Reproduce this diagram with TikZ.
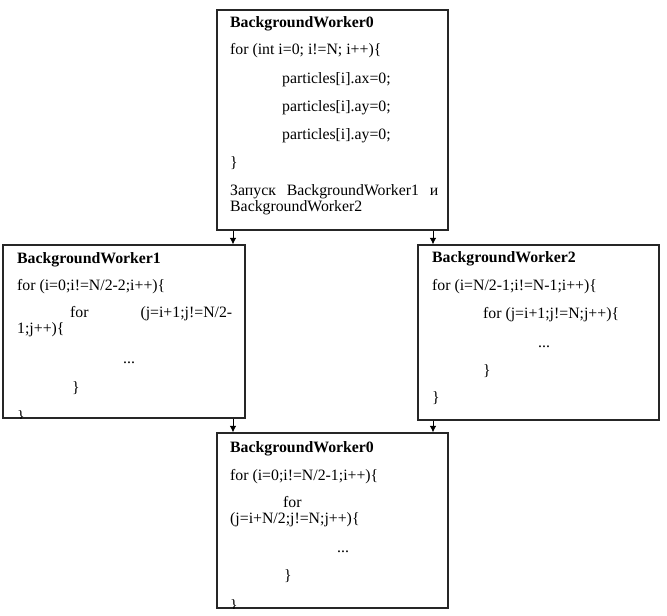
\documentclass[tikz,border=0pt]{standalone}
\usepackage{fontspec}
\setmainfont{Liberation Serif}
\usetikzlibrary{arrows.meta}
\begin{document}
\begin{tikzpicture}[x=1pt,y=-1pt,
  box/.style={draw=black!85,line width=1.2pt,rectangle,inner sep=0pt,fill=white},
  txt/.style={anchor=base west,inner sep=0pt,font=\fontsize{15.8}{14}\selectfont},
  hd/.style={txt,font=\fontsize{15.8}{14}\selectfont\bfseries},
  arr/.style={draw=black,line width=0.9pt,-{Latex[length=6.5pt,width=6.5pt]}}]
\useasboundingbox[fill=white] (0,0) rectangle (667,616);
% boxes
\node[box,minimum width=231pt,minimum height=220pt] (top) at (332.5,120) {};
\node[box,minimum width=242pt,minimum height=173pt] (left) at (124,331.5) {};
\node[box,minimum width=241pt,minimum height=175pt] (right) at (538.5,332.5) {};
\node[box,minimum width=231pt,minimum height=175pt] (bot) at (332.5,520.5) {};
% top box text
\node[hd] (t1) at (230,27) {BackgroundWorker0};
\node[txt] (t2) at (230,54) {for (int i=0; i!=N; i++)\{};
\node[txt] (t3) at (282,83) {particles[i].ax=0;};
\node[txt] (t4) at (282,111) {particles[i].ay=0;};
\node[txt] (t5) at (282,139) {particles[i].ay=0;};
\node[txt] (t6) at (230,167) {\}};
\node[txt] (t7) at (230,195) {\hbox to 208pt{Запуск\hfill BackgroundWorker1\hfill и}};
\node[txt] (t8) at (230,211) {BackgroundWorker2};
% left box text
\begin{scope}
\clip (left.north west) rectangle (left.south east);
\node[hd] (l1) at (17,263) {BackgroundWorker1};
\node[txt] (l2) at (17,290) {for (i=0;i!=N/2-2;i++)\{};
\node[txt] (l3) at (70,317) {\hbox to 162pt{for\hfill (j=i+1;j!=N/2-}};
\node[txt] (l4) at (17,333) {1;j++)\{};
\node[txt] (l5) at (123,363) {...};
\node[txt] (l6) at (72,392) {\}};
\node[txt] (l7) at (17,421) {\}};
\end{scope}
% right box text
\node[hd] (r1) at (432,262) {BackgroundWorker2};
\node[txt] (r2) at (432,290) {for (i=N/2-1;i!=N-1;i++)\{};
\node[txt] (r3) at (483,318) {for (j=i+1;j!=N;j++)\{};
\node[txt] (r4) at (538,347) {...};
\node[txt] (r5) at (483,375) {\}};
\node[txt] (r6) at (432,402) {\}};
% bottom box text
\begin{scope}
\clip (bot.north west) rectangle (bot.south east);
\node[hd] (b1) at (230,452) {BackgroundWorker0};
\node[txt] (b2) at (230,480) {for (i=0;i!=N/2-1;i++)\{};
\node[txt] (b3) at (283,507) {for};
\node[txt] (b4) at (230,523) {(j=i+N/2;j!=N;j++)\{};
\node[txt] (b5) at (337,552) {...};
\node[txt] (b6) at (284,580) {\}};
\node[txt] (b7) at (230,610) {\}};
\end{scope}
% connectors
\coordinate (xl) at (233,0);
\coordinate (xr) at (433,0);
\draw[arr] (top.south -| xl) -- (left.north -| xl);
\draw[arr] (top.south -| xr) -- (right.north -| xr);
\draw[arr] (left.south -| xl) -- (bot.north -| xl);
\draw[arr] (right.south -| xr) -- (bot.north -| xr);
\end{tikzpicture}
\end{document}
